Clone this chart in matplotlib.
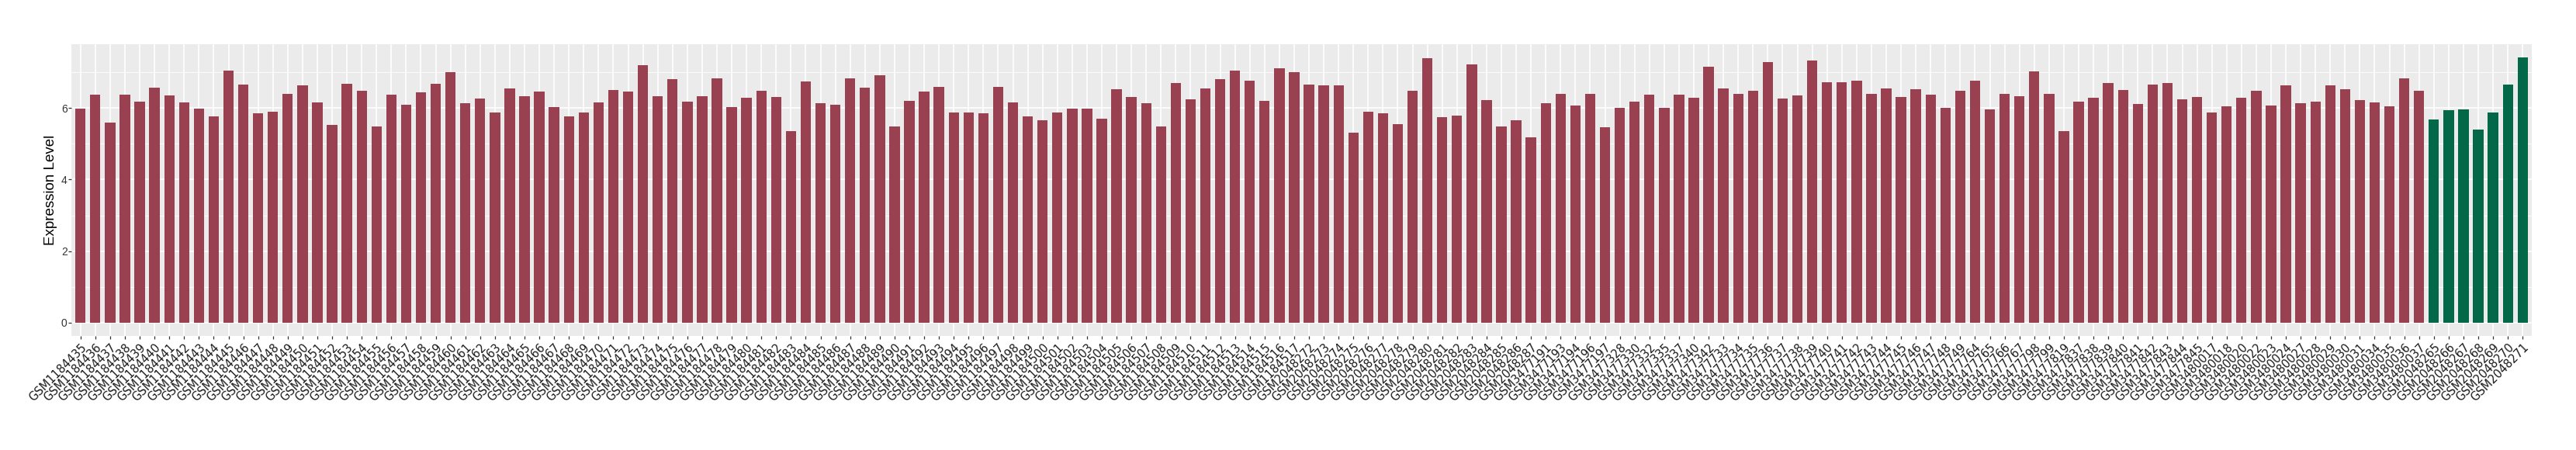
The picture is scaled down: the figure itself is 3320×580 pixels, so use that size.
import numpy as np
import matplotlib
matplotlib.use("Agg")
import matplotlib.pyplot as plt
import matplotlib.transforms as mtransforms

# -------------------------
# Data
# -------------------------
ctrl_samples = (
    [f"GSM1184{i}" for i in range(435, 518)]
    + [f"GSM2048{i}" for i in range(272, 288)]
    + ["GSM3477191", "GSM3477193", "GSM3477194", "GSM3477196", "GSM3477197",
       "GSM3477328", "GSM3477330", "GSM3477332", "GSM3477335", "GSM3477337",
       "GSM3477340", "GSM3477342"]
    + [f"GSM3477{i}" for i in range(733, 750)]
    + ["GSM3477764", "GSM3477765", "GSM3477766", "GSM3477767", "GSM3477798",
       "GSM3477799", "GSM3477819", "GSM3477837", "GSM3477838", "GSM3477839",
       "GSM3477840", "GSM3477841", "GSM3477842", "GSM3477843", "GSM3477844",
       "GSM3477845"]
    + ["GSM3480017", "GSM3480018", "GSM3480020", "GSM3480022", "GSM3480023",
       "GSM3480024", "GSM3480027", "GSM3480028", "GSM3480029", "GSM3480030",
       "GSM3480031", "GSM3480034", "GSM3480035", "GSM3480036", "GSM3480037"]
)
case_samples = [f"GSM2048{i}" for i in range(265, 272)]

ctrl_values = [
    5.98, 6.38, 5.59, 6.38, 6.18, 6.57, 6.35, 6.16, 5.98, 5.77,
    7.05, 6.66, 5.85, 5.90, 6.40, 6.64, 6.16, 5.53, 6.68, 6.48,
    5.49, 6.38, 6.10, 6.44, 6.68, 7.00, 6.13, 6.26, 5.88, 6.55,
    6.33, 6.46, 6.03, 5.77, 5.88, 6.16, 6.51, 6.46, 7.20, 6.33,
    6.81, 6.18, 6.33, 6.83, 6.03, 6.29, 6.48, 6.31, 5.36, 6.74,
    6.13, 6.10, 6.83, 6.57, 6.92, 5.49, 6.20, 6.46, 6.59, 5.88,
    5.88, 5.85, 6.59, 6.16, 5.77, 5.66, 5.88, 5.98, 5.98, 5.70,
    6.53, 6.31, 6.13, 5.49, 6.70, 6.25, 6.55, 6.81, 7.05, 6.77,
    6.20, 7.12, 7.00, 6.66, 6.64, 6.64, 5.31, 5.90, 5.85, 5.55,
    6.48, 7.40, 5.75, 5.79, 7.22, 6.23, 5.49, 5.66, 5.18, 6.13,
    6.40, 6.07, 6.40, 5.46, 6.00, 6.18, 6.38, 6.00, 6.38, 6.29,
    7.15, 6.55, 6.40, 6.48, 7.28, 6.26, 6.35, 7.33, 6.72, 6.72,
    6.77, 6.40, 6.55, 6.31, 6.53, 6.38, 6.00, 6.48, 6.77, 5.97,
    6.40, 6.33, 7.02, 6.40, 5.36, 6.18, 6.29, 6.70, 6.51, 6.12,
    6.66, 6.70, 6.25, 6.31, 5.88, 6.05, 6.29, 6.48, 6.07, 6.64,
    6.13, 6.18, 6.64, 6.53, 6.23, 6.16, 6.05, 6.83, 6.48,
]
case_values = [5.68, 5.94, 5.97, 5.40, 5.88, 6.66, 7.42]

ctrl_color = "#9A4151"
case_color = "#036848"

# -------------------------
# Plotting
# -------------------------
samples = ctrl_samples + case_samples
values = ctrl_values + case_values
colors = [ctrl_color] * len(ctrl_values) + [case_color] * len(case_values)
x = np.arange(len(samples))

W, H = 3320, 580
fig = plt.figure(figsize=(W / 100, H / 100), dpi=100)
left, right, top, bottom = 92.3, 3262.7, 56.7, 433.0
ax = fig.add_axes([left / W, 1 - bottom / H, (right - left) / W, (bottom - top) / H])
ax.set_facecolor("#EBEBEB")

ax.bar(x, values, width=0.7, color=colors, zorder=3)

ymax = max(values)
ax.set_ylim(-0.05 * ymax, ymax * 1.05)
ax.set_xlim(-0.6, len(samples) - 0.4)

ax.set_yticks([0, 2, 4, 6])
ax.set_yticklabels(["0", "2", "4", "6"], family="Liberation Sans")
ax.set_yticks([1, 3, 5, 7], minor=True)
ax.set_xticks(x)
ax.set_xticklabels(samples, rotation=45, ha="right", va="top",
                   rotation_mode="anchor", fontsize=10.5,
                   family="DejaVu Sans", color="#1A1A1A")
# ggplot-style nudge of the rotated labels
shift = mtransforms.ScaledTranslation(6 / 100, 0, fig.dpi_scale_trans)
for t in ax.get_xticklabels():
    t.set_transform(t.get_transform() + shift)

ax.tick_params(axis="x", length=3, width=0.9, color="#333333", pad=2)
ax.tick_params(axis="y", which="major", length=3, width=0.9, color="#333333",
               labelsize=10, labelcolor="#333333", pad=1)
ax.tick_params(axis="y", which="minor", length=0)

ax.grid(True, which="major", color="white", linewidth=1.2, zorder=1)
ax.grid(True, which="minor", axis="y", color="white", linewidth=0.6, zorder=1)
ax.set_axisbelow(True)
for s in ax.spines.values():
    s.set_visible(False)

ax.set_ylabel("Expression Level", fontsize=13.5, family="Liberation Sans",
              color="black")
ax.yaxis.set_label_coords((74 - left) / (right - left), 0.5)

fig.savefig("out.png", dpi=100)
